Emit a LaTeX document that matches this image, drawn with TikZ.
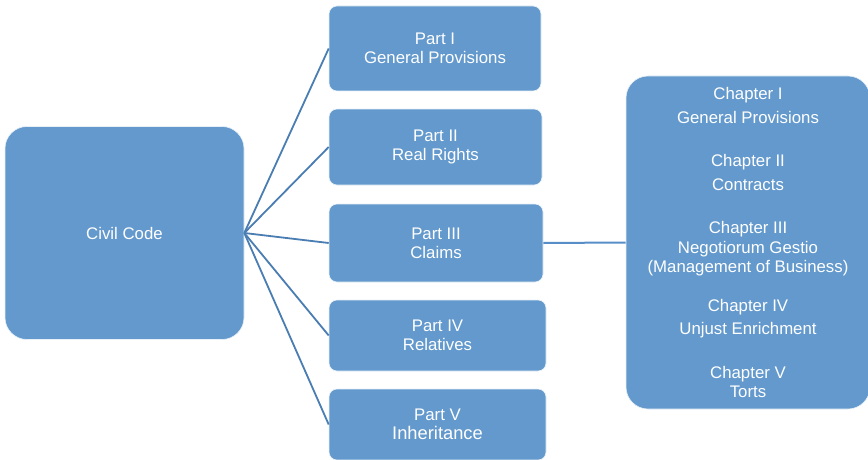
\documentclass[tikz,border=0pt]{standalone}
\usepackage{fontspec}
\setmainfont{Liberation Sans}
\definecolor{boxblue}{RGB}{99,153,204}
\definecolor{fanblue}{RGB}{74,125,178}
\definecolor{linkblue}{RGB}{88,142,200}

\begin{document}
\begin{tikzpicture}[x=1pt,y=-1pt,
        box/.style={fill=boxblue,draw=white!85!boxblue,line width=0.6pt,
            text=white,align=center,inner sep=0pt,
            font=\fontsize{16.8}{19}\selectfont},
        partbox/.style={box,rounded corners=8pt},
        bigbox/.style={box,rounded corners=22pt},
        fan/.style={draw=fanblue,line width=1.8pt},
        link/.style={draw=linkblue,line width=2pt}]
    \useasboundingbox (0,0) rectangle (868,460);
    \node[bigbox,minimum width=239pt,minimum height=213pt] (code) at (124.5,233) {Civil Code};
    \node[partbox,minimum width=212pt,minimum height=85pt] (p1) at (435,48.5) {Part I\\General Provisions};
    \node[partbox,minimum width=213pt,minimum height=76pt] (p2) at (435.5,147) {Part II\\Real Rights};
    \node[partbox,minimum width=214pt,minimum height=78pt] (p3) at (436,243) {Part III\\Claims};
    \node[partbox,minimum width=217pt,minimum height=71pt] (p4) at (437.5,335.5) {Part IV\\Relatives};
    \node[partbox,minimum width=217pt,minimum height=71pt] (p5) at (437.5,424.5)
        {Part V\\{\fontsize{18.3}{19}\selectfont Inheritance}};
    \node[bigbox,minimum width=244pt,minimum height=333pt] (chapters) at (748,242.5)
        {Chapter I\\[5pt]General Provisions\\[24pt]
         Chapter II\\[5pt]Contracts\\[24pt]
         Chapter III\\[1pt]Negotiorum Gestio\\(Management of Business)\\[20pt]
         Chapter IV\\[4pt]Unjust Enrichment\\[25pt]
         Chapter V\\Torts};
    % fan from the code to its parts
    \foreach \p in {p1,p2,p3,p4,p5}
        \path[fan] (code.east) -- (\p.west);
    \path[link] (p3.east) -- (chapters.west);
\end{tikzpicture}
\end{document}
